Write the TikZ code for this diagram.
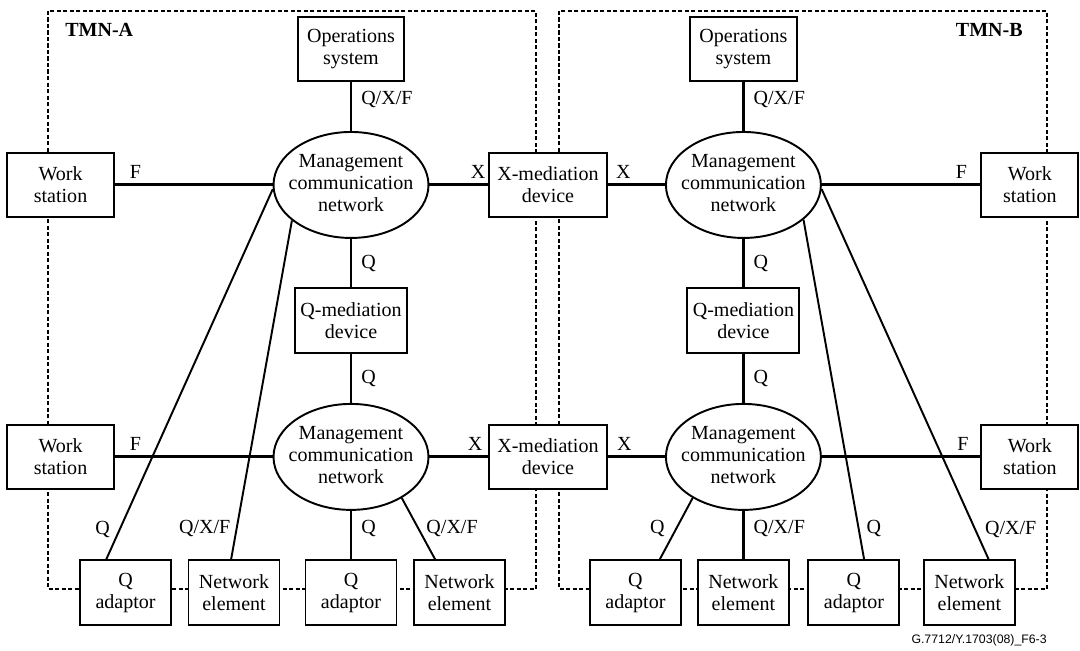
\documentclass[tikz,border=0pt]{standalone}
\usepackage{fontspec}
\setmainfont{Liberation Serif}
\newfontfamily\notefont{Liberation Sans}
\usetikzlibrary{positioning,shapes.geometric}

\newcommand{\mcnlabel}{\makebox[0pt]{\begin{tabular}{@{}c@{}}Management\\communication\\network\end{tabular}}}

\begin{document}
\begin{tikzpicture}[x=0.02cm,y=-0.02cm,node distance=2.72cm,on grid,
    font=\fontsize{11.4}{12.5}\selectfont,
    box/.style={draw,line width=1.1pt,fill=white,align=center,minimum height=1.28cm,inner sep=1pt},
    net/.style={ellipse,draw,line width=1.1pt,fill=white,minimum width=3.1cm,minimum height=2.12cm,inner sep=0pt},
    tmnbox/.style={line width=1.1pt,dash pattern=on 2.4pt off 1.3pt},
    link/.style={line width=1.7pt},
    thinlink/.style={line width=1.1pt},
    lbl/.style={inner sep=3pt}]
  \useasboundingbox (0,0) rectangle (1080,651);
  % the two TMN domains
  \draw[tmnbox] (48,11) rectangle (536,589);
  \draw[tmnbox] (559,11) rectangle (1047,589);
  \node[font=\bfseries\fontsize{11.4}{12.5}\selectfont,anchor=west,inner sep=0pt] (tmn_a) at (65,30) {TMN-A};
  \node[font=\bfseries\fontsize{11.4}{12.5}\selectfont,anchor=east,inner sep=0pt] (tmn_b) at (1023,30) {TMN-B};
  % TMN-A
  \node[box,minimum width=2.12cm] (os_a)  at (351,49)         {Operations\\system};
  \node[net] (mcn_a1) [below=of os_a]                          {\mcnlabel};
  \node[box,minimum width=2.24cm,minimum height=1.3cm] (qm_a) [below=of mcn_a1] {Q-mediation\\device};
  \node[net] (mcn_a2) [below=of qm_a]                          {\mcnlabel};
  \node[box,minimum width=2.14cm] (ws_a1) [left=5.81cm of mcn_a1] {Work\\station};
  \node[box,minimum width=2.14cm] (ws_a2) [left=5.81cm of mcn_a2] {Work\\station};
  \node[box,minimum width=1.82cm,minimum height=1.3cm] (qa_a2) [below=of mcn_a2] {Q\\adaptor};
  \node[box,minimum width=1.82cm,minimum height=1.3cm] (qa_a1) [left=4.51cm of qa_a2] {Q\\adaptor};
  \node[box,minimum width=1.82cm,minimum height=1.3cm] (ne_a1) [left=2.34cm of qa_a2] {Network\\element};
  \node[box,minimum width=1.82cm,minimum height=1.3cm] (ne_a2) [right=2.17cm of qa_a2] {Network\\element};
  % X-mediation devices on the border
  \node[box,minimum width=2.36cm] (xm_1) [right=3.94cm of mcn_a1] {X-mediation\\device};
  \node[box,minimum width=2.36cm] (xm_2) [right=3.94cm of mcn_a2] {X-mediation\\device};
  % TMN-B
  \node[net] (mcn_b1) [right=3.91cm of xm_1]                   {\mcnlabel};
  \node[box,minimum width=2.14cm] (os_b)  [above=of mcn_b1]    {Operations\\system};
  \node[box,minimum width=2.24cm,minimum height=1.3cm] (qm_b) [below=of mcn_b1] {Q-mediation\\device};
  \node[net] (mcn_b2) [below=of qm_b]                          {\mcnlabel};
  \node[box,minimum width=1.94cm] (ws_b1) [right=5.73cm of mcn_b1] {Work\\station};
  \node[box,minimum width=1.94cm] (ws_b2) [right=5.73cm of mcn_b2] {Work\\station};
  \node[box,minimum width=1.82cm,minimum height=1.3cm] (ne_b1) [below=of mcn_b2] {Network\\element};
  \node[box,minimum width=1.82cm,minimum height=1.3cm] (qa_b1) [left=2.16cm of ne_b1] {Q\\adaptor};
  \node[box,minimum width=1.82cm,minimum height=1.3cm] (qa_b2) [right=2.21cm of ne_b1] {Q\\adaptor};
  \node[box,minimum width=1.82cm,minimum height=1.3cm] (ne_b2) [right=4.52cm of ne_b1] {Network\\element};
  \node[font=\notefont\fontsize{7}{8}\selectfont,anchor=east,inner sep=0pt] (fig_id) at (1047,640) {G.7712/Y.1703(08)\_F6-3};

  \path[link,every node/.style={lbl}]
    % TMN-A
    (os_a)   edge node[right,xshift=2pt,pos=0.35] {Q/X/F} (mcn_a1)
    (ws_a1)  edge node[above,pos=0.13] {F} (mcn_a1)
    (mcn_a1) edge node[above,pos=0.83] {X} (xm_1)
    (mcn_a1) edge node[right,xshift=2pt] {Q} (qm_a)
    (qm_a)   edge node[right,xshift=2pt] {Q} (mcn_a2)
    (ws_a2)  edge node[above,pos=0.13] {F} (mcn_a2)
    (mcn_a2) edge node[above,pos=0.78] {X} (xm_2)
    (mcn_a2) edge node[right,xshift=2pt,pos=0.37] {Q} (qa_a2)
    % TMN-B
    (os_b)   edge node[right,xshift=2pt,pos=0.35] {Q/X/F} (mcn_b1)
    (xm_1)   edge node[above,pos=0.27] {X} (mcn_b1)
    (mcn_b1) edge node[above,pos=0.88] {F} (ws_b1)
    (mcn_b1) edge node[right,xshift=2pt] {Q} (qm_b)
    (qm_b)   edge node[right,xshift=2pt] {Q} (mcn_b2)
    (xm_2)   edge node[above,pos=0.29] {X} (mcn_b2)
    (mcn_b2) edge node[above,pos=0.89] {F} (ws_b2)
    (mcn_b2) edge node[right,xshift=2pt,pos=0.37] {Q/X/F} (ne_b1);
  \path[thinlink,every node/.style={lbl}]
    (mcn_a1.183) edge node[left,xshift=-2pt,pos=0.92] {Q} (qa_a1.120)
    (mcn_a1.211) edge node[left,pos=0.91] {Q/X/F} (ne_a1.95)
    (mcn_a2.321) edge node[right,xshift=1pt,pos=0.5] {Q/X/F} (ne_a2.126)
    (mcn_b2.219) edge node[left,xshift=-3pt,pos=0.5] {Q} (qa_b1.54)
    (mcn_b1.330) edge node[right,xshift=1pt,pos=0.91] {Q} (qa_b2.73)
    (mcn_b1.357) edge node[right,xshift=2pt,pos=0.92] {Q/X/F} (ne_b2.60);
\end{tikzpicture}
\end{document}
